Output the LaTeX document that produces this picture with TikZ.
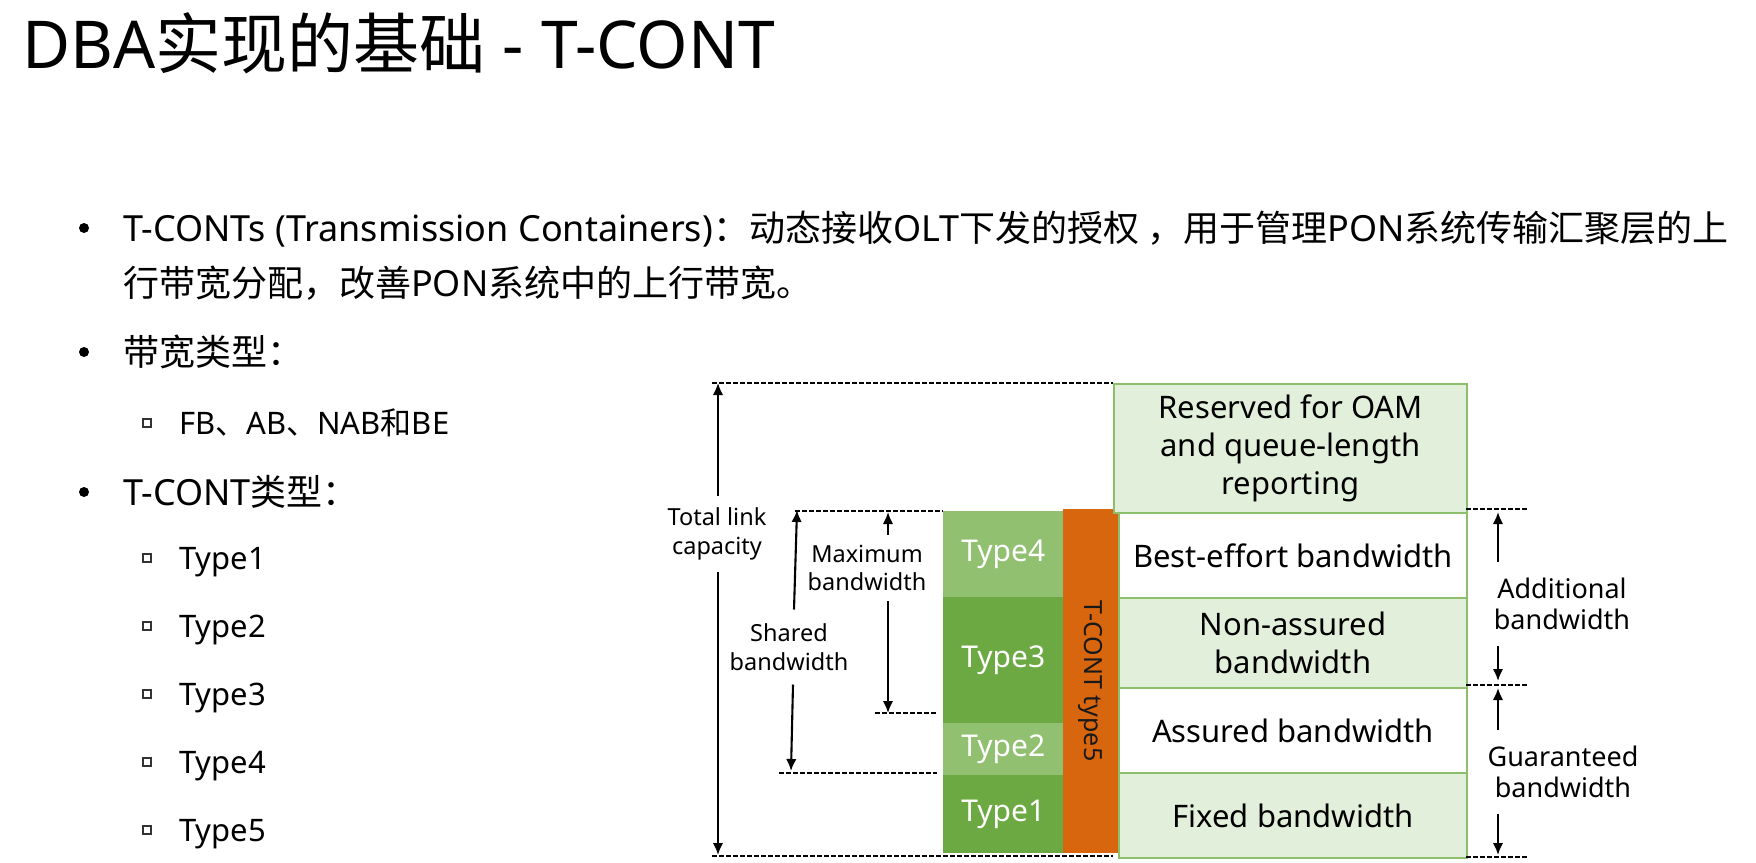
\documentclass[tikz,border=0pt]{standalone}
\usepackage{fontspec}
\setmainfont{Noto Sans}
\newfontfamily\cjk{Noto Sans CJK SC}
\usetikzlibrary{arrows.meta}

\definecolor{typeLight}{HTML}{91C070}
\definecolor{typeDark}{HTML}{6CA942}
\definecolor{tcOrange}{HTML}{D8660F}
\definecolor{rowFill}{HTML}{E2EFDA}
\definecolor{rowLine}{HTML}{8DBE6C}

\begin{document}
\begin{tikzpicture}[x=1pt,y=-1pt,
  txt/.style={anchor=base west, inner sep=0pt, text=black},
  body/.style={font=\fontsize{36}{42}\selectfont},
  subitem/.style={font=\fontsize{31}{38}\selectfont},
  bdot/.style={circle, fill=black, inner sep=0pt, minimum size=10pt},
  bsq/.style={rectangle, draw=black!80, line width=1.3pt, inner sep=0pt, minimum size=8pt},
  row/.style={draw=rowLine, line width=2pt, anchor=north west, inner sep=0pt,
              align=center, font=\fontsize{31}{38}\selectfont},
  typebox/.style={anchor=north west, minimum width=120pt, inner sep=0pt,
                  text=white, font=\fontsize{30}{36}\selectfont},
  lbl/.style={align=center, font=\fontsize{23.5}{28.5}\selectfont},
  rlbl/.style={align=center, font=\fontsize{27}{31}\selectfont},
  arr/.style={line width=2.1pt, -{Latex[length=12pt,width=10.5pt]}},
  dsh/.style={line width=2pt, dash pattern=on 4.5pt off 2.5pt}]

\useasboundingbox (0,0) rectangle (1756,862);

% ---------- title and bullet text ----------
\node[txt, font=\fontsize{66}{72}\selectfont] (title) at (22,68)
  {DBA{\cjk 实现的基础} - T-CONT};

\node[bdot] (b1) at (84,228) {};
\node[txt, body] (l1) at (123,241)
  {T-CONTs (Transmission Containers){\cjk ：动态接收}OLT{\cjk 下发的授权 ，用于管理}PON{\cjk 系统传输汇聚层的上}};
\node[txt, body] (l2) at (123,296)
  {{\cjk 行带宽分配，改善}PON{\cjk 系统中的上行带宽。}};

\node[bdot] (b2) at (84,352) {};
\node[txt, body] (bwtype) at (123,365) {{\cjk 带宽类型：}};
\node[bsq] (s0) at (147,423) {};
\node[txt, subitem] (bwlist) at (179,434) {FB{\cjk 、}AB{\cjk 、}NAB{\cjk 和}BE};

\node[bdot] (b3) at (84,492) {};
\node[txt, body] (tctype) at (123,505) {T-CONT{\cjk 类型：}};
\node[bsq] (s1) at (147,558) {};
\node[txt, subitem] (ty1) at (179,569) {Type1};
\node[bsq] (s2) at (147,626) {};
\node[txt, subitem] (ty2) at (179,637) {Type2};
\node[bsq] (s3) at (147,694) {};
\node[txt, subitem] (ty3) at (179,705) {Type3};
\node[bsq] (s4) at (147,762) {};
\node[txt, subitem] (ty4) at (179,773) {Type4};
\node[bsq] (s5) at (147,830) {};
\node[txt, subitem] (ty5) at (179,841) {Type5};

% ---------- T-CONT type column ----------
\node[typebox, fill=typeLight, minimum height=86pt]  (t4) at (943,511) {Type4};
\node[typebox, fill=typeDark,  minimum height=126pt] (t3) at (943,597) {Type3};
\node[typebox, fill=typeLight, minimum height=52pt]  (t2) at (943,723) {Type2};
\node[typebox, fill=typeDark,  minimum height=78pt]  (t1) at (943,775) {Type1};

\node[fill=tcOrange, rotate=-90, minimum width=344pt, minimum height=55pt,
      inner sep=0pt, text=black!90, font=\fontsize{25}{28}\selectfont]
      (t5) at (1090.5,681) {T-CONT type5};

% ---------- bandwidth rows ----------
\node[row, fill=rowFill, minimum width=353pt, minimum height=129pt] (res) at (1113,383)
  {Reserved for OAM\\and queue-length\\reporting};
\node[row, fill=white,   minimum width=348pt, minimum height=85pt] (best) at (1118,512)
  {Best-effort bandwidth};
\node[row, fill=rowFill, minimum width=348pt, minimum height=90pt] (nona) at (1118,597)
  {Non-assured\\bandwidth};
\node[row, fill=white,   minimum width=348pt, minimum height=85pt] (assu) at (1118,687)
  {Assured bandwidth};
\node[row, fill=rowFill, minimum width=348pt, minimum height=85pt] (fixd) at (1118,772)
  {Fixed bandwidth};

% ---------- dashed reference lines ----------
\coordinate (capTop) at (712,383);
\coordinate (capBotL) at (712,856);
\coordinate (capBotR) at (1113,856);
\draw[dsh] (capTop) -- (res.north west);
\draw[dsh] (capBotL) -- (capBotR);

\coordinate (shTopL) at (795,511);
\draw[dsh] (shTopL) -- (t4.north west);
\coordinate (shBotL) at (779,773);
\coordinate (shBotR) at (937,773);
\draw[dsh] (shBotL) -- (shBotR);
\coordinate (mxBotL) at (875,713);
\coordinate (mxBotR) at (937,713);
\draw[dsh] (mxBotL) -- (mxBotR);

\coordinate (rA1) at (1466,509);
\coordinate (rA2) at (1527,509);
\coordinate (rB1) at (1466,685);
\coordinate (rB2) at (1527,685);
\coordinate (rC1) at (1466,857);
\coordinate (rC2) at (1527,857);
\draw[dsh] (rA1) -- (rA2);
\draw[dsh] (rB1) -- (rB2);
\draw[dsh] (rC1) -- (rC2);

% ---------- left dimension arrows ----------
\node[lbl, inner sep=12pt] (tot) at (717,534) {Total link\\capacity};
\coordinate (totTop) at (718,383);
\coordinate (totBot) at (718,855);
\draw[arr] (tot.north -| totTop) -- (totTop);
\draw[arr] (tot.south -| totBot) -- (totBot);

\node[lbl, inner sep=14pt] (shl) at (789,647) {Shared\\bandwidth};
\coordinate (shTop) at (797,510);
\coordinate (shBot) at (791,771);
\draw[arr] ([xshift=5pt]shl.north) -- (shTop);
\draw[arr] ([xshift=4pt]shl.south) -- (shBot);

\node[lbl, inner sep=10pt] (maxl) at (867,568) {Maximum\\bandwidth};
\coordinate (mxTop) at (888,512);
\coordinate (mxBot) at (888,713);
\draw[arr] (maxl.north -| mxTop) -- (mxTop);
\draw[arr] (maxl.south -| mxBot) -- (mxBot);

% ---------- right dimension arrows ----------
\node[rlbl, inner sep=16pt] (addl) at (1562,604) {Additional\\bandwidth};
\coordinate (adTop) at (1498,512);
\coordinate (adBot) at (1498,681);
\draw[arr] (addl.north -| adTop) -- (adTop);
\draw[arr] (addl.south -| adBot) -- (adBot);

\node[rlbl, inner sep=15.5pt] (gual) at (1563,772) {Guaranteed\\bandwidth};
\coordinate (guTop) at (1498,688);
\coordinate (guBot) at (1498,855);
\draw[arr] (gual.north -| guTop) -- (guTop);
\draw[arr] (gual.south -| guBot) -- (guBot);

\end{tikzpicture}
\end{document}
